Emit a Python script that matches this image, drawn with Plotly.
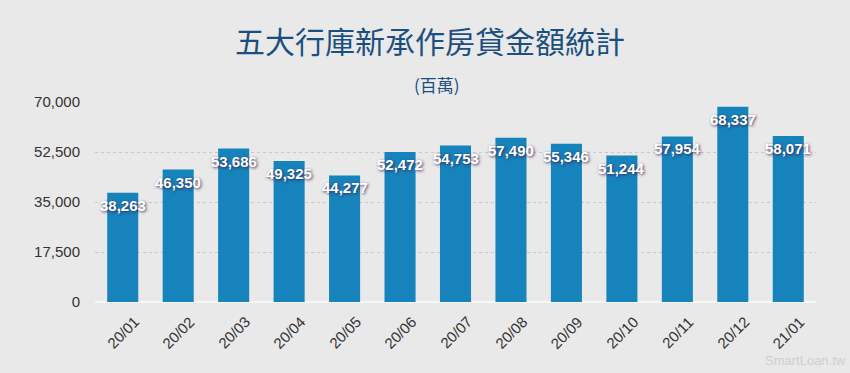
import plotly.graph_objects as go

categories = ["20/01", "20/02", "20/03", "20/04", "20/05", "20/06", "20/07",
              "20/08", "20/09", "20/10", "20/11", "20/12", "21/01"]
values = [38263, 46350, 53686, 49325, 44277, 52472, 54753,
          57490, 55346, 51244, 57954, 68337, 58071]
y_ticks = [0, 17500, 35000, 52500, 70000]
y_tick_labels = ["0", "17,500", "35,000", "52,500", "70,000"]

BG = "#e9e9e9"
BAR = "#1783bc"
TXT = "#333333"
FONT = "Liberation Sans, Arial, sans-serif"
CJK = "Noto Sans CJK TC, sans-serif"
TITLE_COLOR = "#1b4f80"

fig = go.Figure()
fig.add_trace(go.Bar(x=categories, y=values, marker=dict(color=BAR, line=dict(width=0)),
                     hoverinfo="skip"))

annotations = []
for c, v in zip(categories, values):
    annotations.append(dict(
        x=c, y=v, xref="x", yref="y", text=f"{v:,}", showarrow=False,
        yanchor="middle", yshift=-12.5,
        font=dict(family=FONT, size=15, color="white", weight="bold",
                  shadow="1px 1px 3px rgba(60,30,80,0.9)")))
    annotations.append(dict(
        x=c, y=0, xref="x", yref="paper", text=c, showarrow=False,
        textangle=-45, yanchor="middle", xanchor="center", yshift=-30,
        font=dict(family=FONT, size=15, color=TXT)))

annotations.append(dict(text="(百萬)", xref="paper", yref="paper", x=0.474, y=1,
                        xanchor="center", yanchor="middle", yshift=18, showarrow=False,
                        font=dict(family=CJK, size=17, color=TITLE_COLOR)))
annotations.append(dict(text="SmartLoan.tw", xref="paper", yref="paper", x=1.0, y=0,
                        xanchor="center", yanchor="middle", xshift=-11, yshift=-58,
                        showarrow=False, font=dict(family=FONT, size=13, color="#cfcfcf")))

fig.update_layout(
    width=850, height=373,
    paper_bgcolor=BG, plot_bgcolor=BG,
    margin=dict(l=95, r=34, t=102, b=71),
    showlegend=False,
    bargap=0.44,
    title=dict(text="五大行庫新承作房貸金額統計",
               x=0.506, xanchor="center", y=1 - 42 / 373, yanchor="middle", yref="container",
               font=dict(family=CJK, size=30, color=TITLE_COLOR)),
    xaxis=dict(showticklabels=False, showgrid=False, zeroline=False, showline=False,
               ticks="", fixedrange=True),
    yaxis=dict(range=[0, 70000], tickvals=y_ticks, ticktext=y_tick_labels,
               tickfont=dict(family=FONT, size=15, color=TXT),
               showgrid=True, gridcolor="#c8c8c8", griddash="dot", gridwidth=1,
               zeroline=True, zerolinecolor="#f8f8f8", zerolinewidth=2,
               showline=False, ticks="", ticklabelstandoff=14, fixedrange=True),
    annotations=annotations,
)

fig.write_html("out.html", config={"displayModeBar": False},
               post_script="document.body.style.margin='0';document.body.style.overflow='hidden';")
